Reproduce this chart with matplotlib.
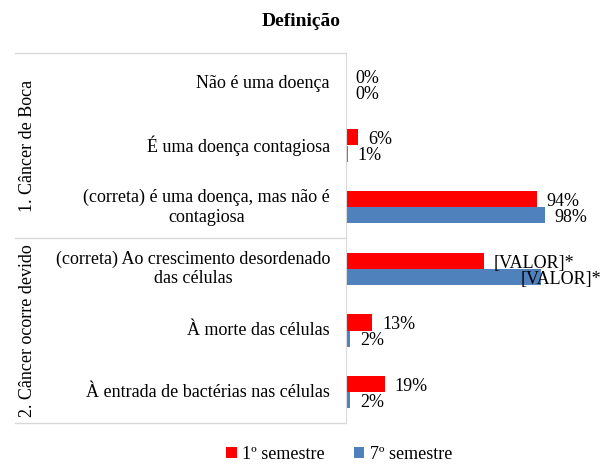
import matplotlib.pyplot as plt
from matplotlib.lines import Line2D
import numpy as np

plt.rcParams['font.family'] = ['Liberation Serif', 'DejaVu Serif']

categorias = ["Não é uma doença",
              "É uma doença contagiosa",
              "(correta) é uma doença, mas não é\ncontagiosa",
              "(correta) Ao crescimento desordenado\ndas células",
              "À morte das células",
              "À entrada de bactérias nas células"]
grupos = ["1. Câncer de Boca", "2. Câncer ocorre devido"]
sem1 = [0, 6, 94, 68, 13, 19]
sem7 = [0, 1, 98, 96, 2, 2]
rot1 = ["0%", "6%", "94%", "[VALOR]*", "13%", "19%"]
rot7 = ["0%", "1%", "98%", "[VALOR]*", "2%", "2%"]

W, H = 602, 469
fig = plt.figure(figsize=(W / 100, H / 100), dpi=100)
# plot area: x 346..549 px (0..100%), y 53..423 px
ax = fig.add_axes([346 / W, (H - 423) / H, 203 / W, 370 / H])

y = np.arange(len(categorias))
h = 0.26
ax.barh(y - h / 2, sem1, height=h, color='#FF0000', label='1º semestre')
ax.barh(y + h / 2, sem7, height=h, color='#4F81BD', label='7º semestre')

ax.set_xlim(0, 100)
ax.set_ylim(len(categorias) - 0.5, -0.5)
ax.set_xticks([])
ax.set_yticks([])
for s in ['top', 'right', 'bottom']:
    ax.spines[s].set_visible(False)
ax.spines['left'].set_color('#d9d9d9')

fs = 13
off = 4.8
dy = 0.04
for i in range(len(categorias)):
    ax.text(sem1[i] + off, y[i] - h / 2 + dy, rot1[i], ha='left', va='center',
            fontsize=fs, clip_on=False)
    if rot7[i].startswith('['):
        # label pushed back inside the chart area
        ax.text(125.6, y[i] + h / 2 + dy, rot7[i], ha='right', va='center',
                fontsize=fs, clip_on=False)
    else:
        ax.text(sem7[i] + off, y[i] + h / 2 + dy, rot7[i], ha='left', va='center',
                fontsize=fs, clip_on=False)
    ax.text(-16 / 203, y[i], categorias[i], transform=ax.get_yaxis_transform(),
            ha='right', va='center', multialignment='center', fontsize=fs)

# group separators and group labels
x0 = (15 - 346) / 203
for b in [-0.5, 2.5, 5.5]:
    ax.add_line(Line2D([x0, 0], [b, b], transform=ax.get_yaxis_transform(),
                       color='#d9d9d9', lw=1, clip_on=False))
for g, centro in zip(grupos, [1, 4]):
    ax.text((28 - 346) / 203, centro, g, transform=ax.get_yaxis_transform(),
            rotation=90, ha='center', va='center', fontsize=fs)

fig.text(301 / W, 1 - 22 / H, "Definição", ha='center', va='center',
         fontsize=14, fontweight='bold')
fig.legend(loc='lower center', bbox_to_anchor=(339 / W, -0.022), ncol=2,
           frameon=False, fontsize=fs, handlelength=0.6, handleheight=0.6,
           handletextpad=0.3, columnspacing=1.6)

fig.savefig('out.png', dpi=100)
